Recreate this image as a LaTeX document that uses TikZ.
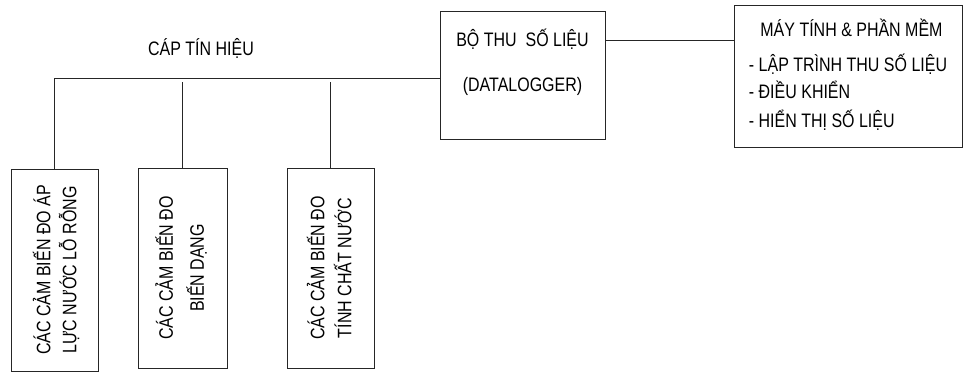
\documentclass[tikz,border=0pt]{standalone}
\usepackage{fontspec}
\setmainfont{Liberation Sans}
\usetikzlibrary{positioning}
\newcommand{\narrowtext}[1]{\scalebox{0.82}[1]{#1}}

\begin{document}
\begin{tikzpicture}[
        x=1pt, y=1pt,
        font=\fontsize{19.5pt}{19pt}\selectfont,
        box/.style={draw=black!85, line width=0.9pt, inner sep=0pt, align=center},
        sensor/.style={box, minimum width=87pt, minimum height=200pt},
        wire/.style={draw=black!85, line width=0.9pt}
    ]
        \useasboundingbox (0,0) rectangle (964,373);

        \node[box, minimum width=165pt, minimum height=128pt] (logger) at (522.5,298) {\narrowtext{\begin{tabular}{@{}c@{}}BỘ THU\ \ SỐ LIỆU\\[25pt](DATALOGGER)\\[4pt]\mbox{}\end{tabular}}};
        \node[box, minimum width=228pt, minimum height=142pt] (pc) at (848,297) {\narrowtext{\begin{tabular}{@{}l@{}}\hspace*{14pt}MÁY TÍNH \& PHẦN MỀM\\[12pt]- LẬP TRÌNH THU SỐ LIỆU\\[4pt]- ĐIỀU KHIỂN\\[5pt]- HIỂN THỊ SỐ LIỆU\end{tabular}}};

        \node[sensor, minimum height=202pt] (s1) at (54.5,103) {\hspace{6pt}\rotatebox{90}{\narrowtext{\begin{tabular}{@{}c@{}}CÁC CẢM BIẾN ĐO ÁP\\[3pt]LỰC NƯỚC LỖ RỖNG\end{tabular}}}};
        \node[sensor, minimum width=89pt] (s2) at (182.5,105) {\rotatebox{90}{\narrowtext{\begin{tabular}{@{}c@{}}CÁC CẢM BIẾN ĐO\\[8pt]BIẾN DẠNG\end{tabular}}}};
        \node[sensor] (s3) at (330.5,105) {\hspace{3pt}\rotatebox{90}{\narrowtext{\begin{tabular}{@{}c@{}}CÁC CẢM BIẾN ĐO\\[4pt]TÍNH CHẤT NƯỚC\end{tabular}}}};

        \node (cable) at (201,325) {\narrowtext{CÁP TÍN HIỆU}};

        \coordinate (tap) at ([yshift=-30pt]logger.north east);
        \coordinate (bus) at ([yshift=-3pt]logger.west);
        \draw[wire] (tap) -- (tap -| pc.west);
        \draw[wire] (bus) -| (s1.north);
        \draw[wire, shorten >=4pt] (s2.north) -- (s2.north |- bus);
        \draw[wire, shorten >=4pt] (s3.north) -- (s3.north |- bus);
    \end{tikzpicture}
\end{document}
